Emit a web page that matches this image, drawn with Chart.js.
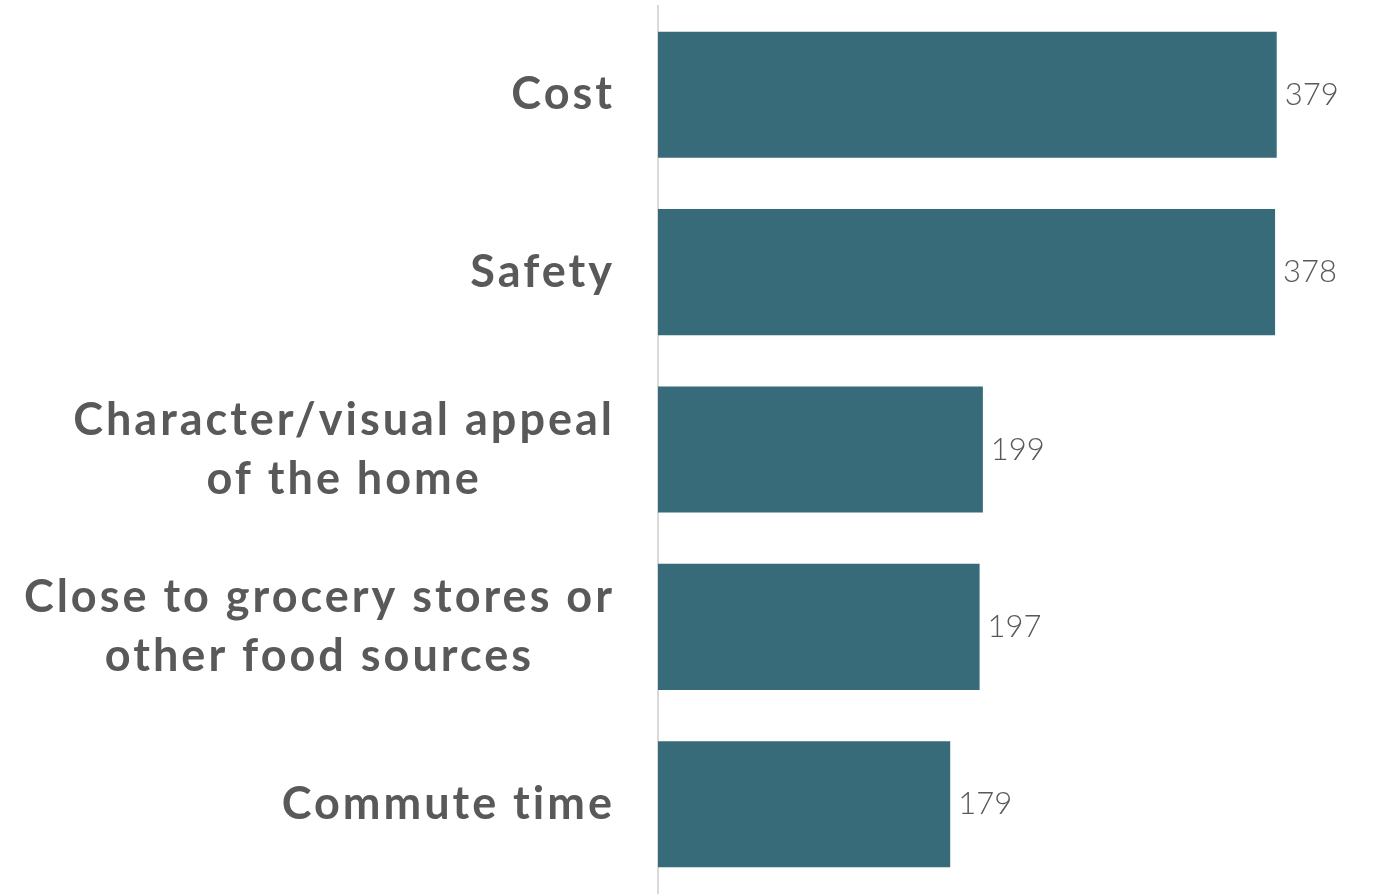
<!DOCTYPE html>
<html>
<head>
<meta charset="utf-8">
<script src="https://cdn.jsdelivr.net/npm/chart.js@4/dist/chart.umd.min.js"></script>
<style>
  html, body { margin: 0; padding: 0; background: #ffffff; }
  #wrap { width: 1375px; height: 894px; position: relative; }
</style>
</head>
<body>
<div id="wrap"><canvas id="c" width="1375" height="894"></canvas></div>
<script>
const categories = [
  ["Cost"],
  ["Safety"],
  ["Character/visual appeal", "of the home"],
  ["Close to grocery stores or", "other food sources"],
  ["Commute time"]
];
const values = [379, 378, 199, 197, 179];

const BAR_COLOR = "#376b79";
const TEXT_COLOR = "#595959";
const LABEL_FONT = "bold 45px Lato, 'Noto Sans', sans-serif";
const LABEL_SPACING = 3;
const LABEL_LINE_HEIGHT = 59;
const LABEL_RIGHT_GAP = 46;
const VALUE_FONT = "300 31px Lato, 'Noto Sans', sans-serif";

const categoryLabelsPlugin = {
  id: "categoryLabels",
  afterDraw(chart) {
    const ctx = chart.ctx;
    const y = chart.scales.y;
    const xRight = y.right - LABEL_RIGHT_GAP;
    ctx.save();
    ctx.font = LABEL_FONT;
    if ("letterSpacing" in ctx) ctx.letterSpacing = LABEL_SPACING + "px";
    ctx.fillStyle = TEXT_COLOR;
    ctx.textAlign = "left";
    ctx.textBaseline = "middle";
    categories.forEach((lines, i) => {
      const cy = y.getPixelForTick(i);
      const widths = lines.map(l => ctx.measureText(l).width - LABEL_SPACING);
      const w = Math.max(...widths);
      const cx = xRight - w / 2;
      const startY = cy - (lines.length - 1) * LABEL_LINE_HEIGHT / 2;
      lines.forEach((l, j) => ctx.fillText(l, cx - widths[j] / 2, startY + j * LABEL_LINE_HEIGHT));
    });
    ctx.restore();
  }
};

const valueLabelsPlugin = {
  id: "valueLabels",
  afterDatasetsDraw(chart) {
    const ctx = chart.ctx;
    const meta = chart.getDatasetMeta(0);
    ctx.save();
    ctx.font = VALUE_FONT;
    ctx.fillStyle = TEXT_COLOR;
    ctx.textAlign = "left";
    ctx.textBaseline = "middle";
    meta.data.forEach((bar, i) => {
      ctx.fillText(String(values[i]), bar.x + 8, bar.y);
    });
    ctx.restore();
  }
};

new Chart(document.getElementById("c"), {
  type: "bar",
  data: {
    labels: categories.map(c => c.join(" ")),
    datasets: [{
      data: values,
      backgroundColor: BAR_COLOR,
      borderWidth: 0,
      categoryPercentage: 1,
      barPercentage: 0.711
    }]
  },
  options: {
    indexAxis: "y",
    responsive: false,
    animation: false,
    layout: { padding: { top: 6, bottom: 1, left: 0, right: 64 } },
    plugins: { legend: { display: false }, tooltip: { enabled: false } },
    scales: {
      x: {
        min: 0, max: 400,
        display: false,
        grid: { display: false }
      },
      y: {
        grid: { display: false, drawTicks: false },
        border: { display: true, color: "#d9d9d9", width: 2 },
        ticks: { display: false },
        afterFit(scale) { scale.width = 658; }
      }
    }
  },
  plugins: [categoryLabelsPlugin, valueLabelsPlugin]
});
</script>
</body>
</html>
